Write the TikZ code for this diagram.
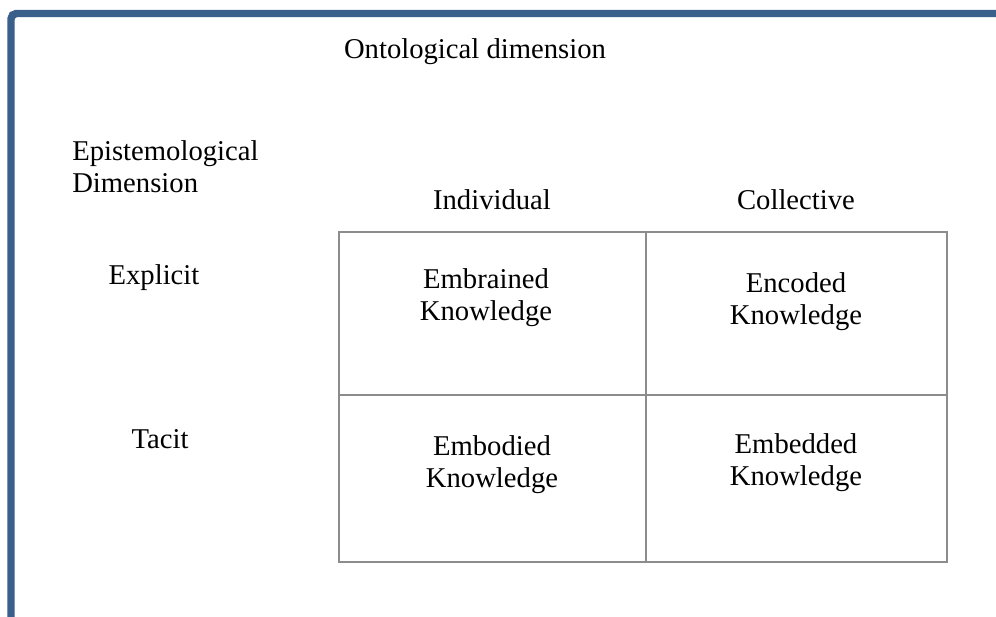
\documentclass[tikz,border=0pt]{standalone}
\usepackage{fontspec}
\setmainfont{Liberation Serif}
\definecolor{frameblue}{RGB}{58,95,139}
\definecolor{gridgray}{RGB}{140,140,140}
\begin{document}
\begin{tikzpicture}[x=0.75pt,y=-0.75pt,
  lbl/.style={inner sep=0pt,font=\fontsize{21.5}{24}\selectfont},
  cell/.style={lbl,align=center,anchor=north}]
\useasboundingbox (0,0) rectangle (996,617);
\fill[white] (0,0) rectangle (996,617);
%frame
\draw[frameblue,line width=5.6pt,rounded corners=4pt] (11,617) -- (11,13.5) -- (1000,13.5);
%grid
\draw[gridgray,line width=1.3pt] (339,232) rectangle (947,562)
(646,232) -- (646,562)
(339,395) -- (947,395);
%headings
\node[lbl,anchor=base] (title) at (475,59) {Ontological dimension};
\node[lbl,align=left,anchor=north west] (epist) at (72,140.4) {Epistemological\\Dimension};
\node[lbl,anchor=base] (indiv) at (492,209) {Individual};
\node[lbl,anchor=base] (collect) at (796,209) {Collective};
\node[lbl,anchor=base] (explicit) at (154,284) {Explicit};
\node[lbl,anchor=base] (tacit) at (160,448) {Tacit};
%cells
\node[cell] (embrained) at (486,268.4) {Embrained\\Knowledge};
\node[cell] (encoded) at (796,272.4) {Encoded\\Knowledge};
\node[cell] (embodied) at (492,435.4) {Embodied\\Knowledge};
\node[cell] (embedded) at (796,433.4) {Embedded\\Knowledge};
\end{tikzpicture}
\end{document}
